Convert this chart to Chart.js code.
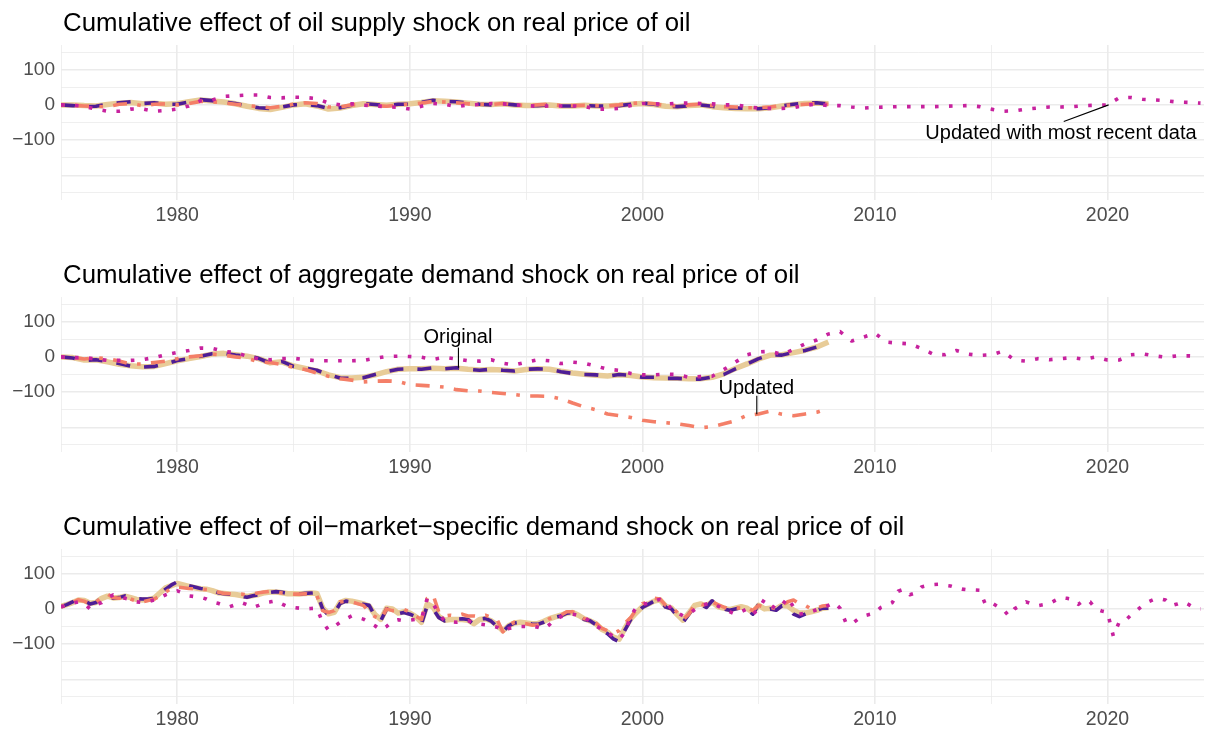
<!DOCTYPE html>
<html>
<head>
<meta charset="utf-8">
<title>Cumulative effects of oil shocks</title>
<script src="https://cdn.jsdelivr.net/npm/chart.js@4.4.1/dist/chart.umd.min.js"></script>
<style>
  body { margin: 0; background: #fff; overflow: hidden; }
  .panel { position: absolute; left: 0; width: 1209px; height: 252px; }
</style>
</head>
<body>
<div class="panel" style="top:0px"><canvas id="supplyChart" width="1209" height="252"></canvas></div>
<div class="panel" style="top:252px"><canvas id="demandChart" width="1209" height="252"></canvas></div>
<div class="panel" style="top:504px"><canvas id="oilChart" width="1209" height="252"></canvas></div>
<script>
// Time axis: half-yearly steps for the smooth panels, quarterly for the last one
const halfYears = Array.from({ length: 67 }, (_, i) => 1975 + i / 2);      // 1975 - 2008
const halfYearsLong = Array.from({ length: 99 }, (_, i) => 1975 + i / 2);  // 1975 - 2024
const quarters = Array.from({ length: 133 }, (_, i) => 1975 + i / 4);      // 1975 - 2008
const quartersLong = Array.from({ length: 197 }, (_, i) => 1975 + i / 4);  // 1975 - 2024

const xTicks = [1975, 1980, 1985, 1990, 1995, 2000, 2005, 2010, 2015, 2020];
const xLabelled = [1980, 1990, 2000, 2010, 2020];
const yTicks = [-250, -200, -150, -100, -50, 0, 50, 100, 150];
const yLabelled = [-100, 0, 100];
const yMajor = [-200, -100, 0, 100];

// Oil supply shock
const supplyOriginal = [
  0, -2, -5, -4, 2, 6, 9, 4, 6, 2,
  2, 8, 15, 12, 8, 4, -3, -8, -10, -6,
  0, 2, -2, -10, -8, -1, 4, 1, -2, 2,
  2, 7, 13, 10, 9, 5, 2, 0, 3, 0,
  -3, -2, 0, -3, -3, -2, -3, -4, -2, 2,
  5, 2, -4, -5, -3, 0, -4, -8, -9, -10,
  -11, -8, -3, 2, 5, 6, 2
];
const supplyReplicated = [
  0, 0, -2, -3, 1, 5, 7, 3, 5, 2,
  3, 9, 14, 11, 8, 3, -4, -10, -13, -7,
  0, 3, -3, -12, -9, -2, 3, 1, -1, 2,
  3, 7, 12, 10, 8, 5, 2, 1, 3, 0,
  -2, -2, 0, -3, -3, -1, -3, -3, -1, 2,
  4, 1, -4, -5, -2, 0, -5, -8, -10, -11,
  -11, -8, -3, 1, 4, 5, 3
];
const supplyUpdated = [
  0, -1, -3, -4, -6, 2, 4, -3, 2, 3,
  0, 4, 10, 9, 6, 2, -2, -5, -8, -4,
  2, 6, 4, -6, -6, 0, 2, -2, -4, 0,
  2, 5, 10, 8, 6, 3, 2, 1, 4, 1,
  -2, 0, 2, -2, -2, -1, -2, -3, 0, 4,
  6, 3, -2, -2, 0, 2, -2, -5, -6, -8,
  -8, -6, -2, 0, 2, 4, 2
];
const supplyRecent = [
  0, -1, -4, -12, -18, -18, -12, -11, -18, -16,
  -12, -3, 12, 14, 24, 26, 28, 28, 21, 20,
  22, 21, 18, 5, 0, 3, -1, -3, -5, -7,
  -12, -4, 4, 2, -5, 0, 1, 4, 3, 0,
  -2, -4, -3, -3, -3, -4, -12, -12, -10, -2,
  4, 3, 2, 5, 5, 4, 3, 0, 0, -5,
  -9, -10, -10, -8, -1, 2, -2, -2, -6, -9,
  -7, -6, -5, -5, -5, -5, -4, -3, -2, -5,
  -12, -18, -17, -12, -9, -6, -6, -5, -2, -1,
  0, 20, 21, 16, 14, 12, 8, 7, 5
];

// Aggregate demand shock
const demandOriginal = [
  0, -3, -10, -8, -13, -19, -26, -29, -27, -20,
  -10, -5, 2, 9, 10, 5, 3, -4, -18, -13,
  -27, -32, -38, -50, -60, -61, -59, -50, -42, -35,
  -34, -35, -31, -34, -31, -35, -38, -35, -38, -40,
  -35, -34, -35, -42, -47, -50, -51, -55, -50, -52,
  -58, -58, -61, -61, -63, -63, -57, -50, -34, -20,
  -5, 6, 5, 13, 18, 28, 43
];
const demandReplicated = [
  0, -2, -9, -8, -14, -21, -25, -28, -27, -19,
  -11, -5, 1, 8, 10, 6, 2, -5, -17, -14,
  -26, -33, -40, -51, -59, -60, -58, -51, -42, -35,
  -34, -34, -32, -34, -32, -35, -37, -36, -37, -40,
  -36, -34, -35, -41, -46, -49, -52, -54, -51, -53,
  -57, -59, -60, -61, -62, -62, -58, -48, -33, -20,
  -6, 5, 6, 12, 19, 28, 42
];
const demandUpdated = [
  0, -2, -6, -3, -5, -12, -20, -20, -16, -12,
  -5, 0, 3, 8, 5, 0, -4, -14, -16, -22,
  -30, -36, -46, -55, -62, -66, -71, -69, -68, -70,
  -79, -81, -83, -86, -93, -96, -97, -101, -104, -107,
  -111, -111, -112, -119, -131, -142, -150, -162, -167, -172,
  -180, -184, -187, -190, -195, -201, -198, -190, -181, -166,
  -162, -154, -163, -167, -162, -157, -146
];
const demandRecent = [
  0, -2, -2, -6, -10, -10, -10, -8, -2, 6,
  13, 18, 25, 24, 16, 12, 2, -6, -8, -5,
  -4, -8, -11, -11, -11, -11, -10, -4, 1, 2,
  1, -1, -7, -1, -6, -11, -12, -8, -18, -23,
  -15, -8, -11, -19, -15, -18, -26, -35, -38, -47,
  -51, -51, -49, -50, -58, -56, -55, -36, -15, 6,
  14, 16, 7, 21, 37, 48, 65, 72, 45, 56,
  67, 42, 39, 37, 24, 8, 6, 18, 8, 4,
  6, 16, -9, -12, -5, -8, -5, -2, -7, 0,
  -9, -9, 6, 9, 3, -1, 3, 3, 2
];

// Oil-market-specific demand shock (quarterly, one row per year)
const oilOriginal = [
  6, 12, 20, 28,   24, 14, 18, 32,   35, 30, 32, 37,   33, 29, 28, 28,   30, 42, 56, 68,
  77, 70, 66, 62,   58, 56, 52, 46,   43, 42, 42, 36,   33, 37, 40, 45,   47, 49, 47, 44,
  43, 42, 44, 45,   46, 0, -18, -12,  15, 22, 20, 16,   13, 10, -20, -34, 0, 2, -14, -10,
  -15, -22, -43, 10, 0, -25, -34, -30, -29, -28, -30, -45, -29, -27, -35, -50, -65, -48, -40, -38,
  -40, -43, -44, -38, -30, -24, -20, -12, -10, -20, -30, -34, -45, -62, -70, -85, -93, -60, -30, -15,
  4, 13, 22, 27,   5, 0, -20, -38,  -15, 8, 13, 4,   23, 4, 0, -4,   0, 4, 0, -15,
  13, -4, 0, -4,   9, 5, -15, -22,  -15, -8, -4, 2,
  2
];
const oilReplicated = [
  7, 12, 18, 25,   24, 16, 18, 30,   36, 31, 32, 36,   32, 27, 25, 27,   30, 45, 60, 66,
  72, 68, 64, 60,   57, 56, 52, 46,   44, 42, 41, 38,   35, 38, 41, 46,   48, 48, 46, 43,
  43, 42, 44, 45,   44, 3, -14, -10,  18, 24, 22, 18,   14, 8, -16, -30,  2, 0, -12, -8,
  -12, -22, -38, 14, 5, -22, -32, -30, -30, -30, -32, -42, -30, -28, -34, -46, -62, -48, -40, -38,
  -40, -42, -42, -36, -28, -23, -18, -12, -10, -18, -28, -34, -42, -58, -66, -80, -86, -55, -28, -10,
  6, 14, 22, 26,   8, 2, -16, -32,  -12, 10, 14, 8,   20, 6, 2, -2,   2, 6, 2, -10,
  10, 0, 2, 0,     10, 8, -4, -12,  -12, -8, -4, 2,
  4
];
const oilUpdated = [
  6, 12, 18, 26,   22, 14, 18, 32,   42, 32, 30, 36,   28, 22, 20, 24,   28, 36, 48, 58,
  62, 60, 58, 57,   56, 55, 54, 48,   44, 43, 42, 42,   40, 42, 46, 48,   50, 48, 45, 43,
  42, 42, 43, 40,   38, -5, -10, -5,  20, 22, 20, 15,   10, -8, -22, -30,  0, -5, -5, -2,
  -8, -20, -30, 30, 40, -10, -20, -18, -20, -15, -20, -20, -22, -18, -24, -30, -65, -45, -38, -40,
  -42, -46, -45, -38, -28, -22, -18, -8, -8, -18, -28, -30, -40, -55, -62, -70, -62, -40, -25, 0,
  15, 20, 30, 28,  10, 5, -10, -30,  -15, 12, 15, 8,  20, 12, 5, 0,   3, 2, 5, -5,
  10, 5, 5, 0,     10, 20, 25, 15,  10, 0, 3, 8,
  10
];
const oilRecent = [
  6, 10, 16, 20,   15, 0, 12, 18,   32, 40, 36, 30,   26, 20, 18, 21,   25, 32, 40, 46,
  51, 45, 37, 35,   33, 28, 20, 16,   10, 6, 12, 18,   12, 4, 10, 18,   20, 23, 14, 6,
  4, 2, 0, 1,       2, -38, -60, -50, -38, -28, -20, -24, -29, -38, -48, -60, -50, -35, -31, -34,
  -32, -30, -29, 30, 15, -15, -34, -36, -38, -36, -34, -38, -43, -45, -48, -52, -62, -56, -52, -50,
  -50, -48, -52, -57, -45, -30, -22, -18, -15, -18, -24, -36, -48, -58, -67, -78, -86, -67, -20, 5,
  13, 16, 22, 27,  20, 0, -10, -20,  -15, -2, 9, 14,  18, 8, 0, -8,   -15, -8, 0, -15,
  0, 27, 12, 0,    10, 32, 5, -15,   -12, -8, -2, 4,  10, 18, 2, -39,  -43, -30, -20, -16,
  -12, 4, 10, 18,  50, 56, 40, 45,   62, 66, 69, 70,  67, 65, 60, 56,  54, 54, 53, 13,
  18, 8, 0, -20,   0, 10, 20, 14,    9, 12, 15, 24,   32, 30, 27, 13,  25, 20, 0, -6,
  -10, -77, -38, -34, -18, -5, 9, 20, 27, 29, 25, 9,  14, 20, 12, 2,
  0
];

const colors = {
  replicated: '#E8CC98',
  original: '#4E1D96',
  updated: '#F47F68',
  recent: '#C7229E'
};
const fontFamily = '"Liberation Sans", Arial, Helvetica, sans-serif';

function lineSet(xs, ys, color, width, dash) {
  return {
    data: xs.map((x, i) => ({ x: x, y: ys[i] })),
    borderColor: color,
    borderWidth: width,
    borderDash: dash,
    borderCapStyle: 'butt',
    borderJoinStyle: 'round',
    pointRadius: 0,
    fill: false,
    tension: 0
  };
}

// Panel title, top left like ggplot
const panelTitle = {
  id: 'panelTitle',
  afterDraw(chart, args, opts) {
    const ctx = chart.ctx;
    ctx.save();
    ctx.font = '25.8px ' + fontFamily;
    ctx.fillStyle = '#000000';
    ctx.textAlign = 'left';
    ctx.textBaseline = 'alphabetic';
    ctx.fillText(opts.text, 63, 31);
    ctx.restore();
  }
};

// Text labels with a pointer line, given in data units
const labelNotes = {
  id: 'labelNotes',
  afterDatasetsDraw(chart, args, opts) {
    const ctx = chart.ctx;
    const xs = chart.scales.x;
    const ys = chart.scales.y;
    ctx.save();
    (opts.notes || []).forEach(n => {
      ctx.strokeStyle = '#000000';
      ctx.lineWidth = 1.1;
      ctx.beginPath();
      ctx.moveTo(xs.getPixelForValue(n.fromX), ys.getPixelForValue(n.fromY));
      ctx.lineTo(xs.getPixelForValue(n.toX), ys.getPixelForValue(n.toY));
      ctx.stroke();
      ctx.font = '20px ' + fontFamily;
      ctx.fillStyle = '#000000';
      ctx.textAlign = 'center';
      ctx.textBaseline = 'alphabetic';
      ctx.fillText(n.text, xs.getPixelForValue(n.x), ys.getPixelForValue(n.y));
    });
    ctx.restore();
  }
};

function makePanel(canvasId, title, datasets, notes) {
  const ctx = document.getElementById(canvasId).getContext('2d');
  return new Chart(ctx, {
    type: 'line',
    data: { datasets: datasets },
    plugins: [panelTitle, labelNotes],
    options: {
      animation: false,
      responsive: false,
      devicePixelRatio: 1,
      layout: { padding: { top: 45, right: 5, bottom: 0, left: 0 } },
      plugins: {
        legend: { display: false },
        tooltip: { enabled: false },
        panelTitle: { text: title },
        labelNotes: { notes: notes }
      },
      scales: {
        x: {
          type: 'linear',
          min: 1975,
          max: 2024.15,
          afterBuildTicks: scale => { scale.ticks = xTicks.map(v => ({ value: v })); },
          afterFit: scale => { scale.height = 52; },
          border: { display: false },
          grid: {
            color: '#EBEBEB',
            lineWidth: c => xLabelled.includes(c.tick.value) ? 1.6 : 0.8,
            drawTicks: false
          },
          ticks: {
            autoSkip: false,
            maxRotation: 0,
            padding: 4,
            color: '#4D4D4D',
            font: { family: fontFamily, size: 19.5 },
            callback: v => xLabelled.includes(v) ? String(v) : ''
          }
        },
        y: {
          min: -270,
          max: 170,
          afterBuildTicks: scale => { scale.ticks = yTicks.map(v => ({ value: v })); },
          afterFit: scale => { scale.width = 61; },
          border: { display: false },
          grid: {
            color: '#EBEBEB',
            lineWidth: c => yMajor.includes(c.tick.value) ? 1.6 : 0.8,
            drawTicks: false
          },
          ticks: {
            autoSkip: false,
            padding: 6,
            color: '#4D4D4D',
            font: { family: fontFamily, size: 19 },
            callback: v => yLabelled.includes(v) ? String(v).replace('-', '\u2212') : ''
          }
        }
      }
    }
  });
}

const dotted = [3.6, 10.4];
const dashed = [14, 14];
const dotDash = [3.6, 10.4, 14, 10.4];

makePanel('supplyChart', 'Cumulative effect of oil supply shock on real price of oil', [
  lineSet(halfYearsLong, supplyRecent, colors.recent, 3.6, dotted),
  lineSet(halfYears, supplyUpdated, colors.updated, 3.6, dotDash),
  lineSet(halfYears, supplyOriginal, colors.original, 3.6, dashed),
  lineSet(halfYears, supplyReplicated, colors.replicated, 5.5, [])
], [
  { text: 'Updated with most recent data', x: 2018.0, y: -96, fromX: 2018.12, fromY: -47, toX: 2020.05, toY: 0 }
]);

makePanel('demandChart', 'Cumulative effect of aggregate demand shock on real price of oil', [
  lineSet(halfYearsLong, demandRecent, colors.recent, 3.6, dotted),
  lineSet(halfYears, demandUpdated, colors.updated, 3.6, dotDash),
  lineSet(halfYears, demandOriginal, colors.original, 3.6, dashed),
  lineSet(halfYears, demandReplicated, colors.replicated, 5.5, [])
], [
  { text: 'Original', x: 1992.07, y: 38.6, fromX: 1992.09, fromY: 27, toX: 1992.09, toY: -31 },
  { text: 'Updated', x: 2004.9, y: -105, fromX: 2004.92, fromY: -110, toX: 2004.92, toY: -163 }
]);

makePanel('oilChart', 'Cumulative effect of oil\u2212market\u2212specific demand shock on real price of oil', [
  lineSet(quartersLong, oilRecent, colors.recent, 3.6, dotted),
  lineSet(quarters, oilUpdated, colors.updated, 3.6, dotDash),
  lineSet(quarters, oilOriginal, colors.original, 3.6, dashed),
  lineSet(quarters, oilReplicated, colors.replicated, 5.5, [])
], []);
</script>
</body>
</html>
